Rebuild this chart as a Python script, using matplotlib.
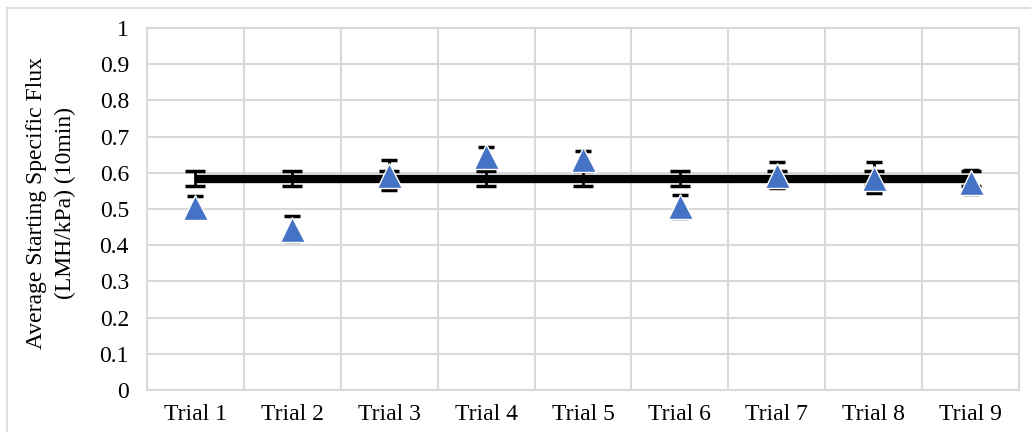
import numpy as np
import matplotlib
matplotlib.use("Agg")
import matplotlib.pyplot as plt
from matplotlib.lines import Line2D

# Starting specific flux per trial, with the overall average
trials = ["Trial 1", "Trial 2", "Trial 3", "Trial 4", "Trial 5",
          "Trial 6", "Trial 7", "Trial 8", "Trial 9"]
trial_flux = [0.505, 0.446, 0.594, 0.646, 0.639, 0.507, 0.595, 0.586, 0.575]
trial_err = [0.030, 0.035, 0.042, 0.026, 0.020, 0.032, 0.036, 0.043, 0.033]
avg_flux = 0.584
avg_err = 0.021

plt.rcParams["font.family"] = ["Liberation Serif", "DejaVu Serif"]
plt.rcParams["font.size"] = 17

fig = plt.figure(figsize=(10.31, 4.32), dpi=100)
ax = fig.add_axes([147 / 1031, 1 - 390 / 432, 872 / 1031, 362 / 432])

x = np.arange(len(trials))
grid_col = "#d9d9d9"

# average line with its error bars at every trial
avg_line = ax.errorbar(x, [avg_flux] * len(x), yerr=avg_err, color="black", lw=6,
                       elinewidth=2, capsize=7, capthick=2.5, zorder=3)
avg_line[0].set_solid_capstyle("butt")

# individual trials
ax.errorbar(x, trial_flux, yerr=trial_err, fmt="none", ecolor="black",
            elinewidth=2, capsize=6, capthick=2.5, zorder=4)
ax.plot(x, trial_flux, ls="none", marker="^", ms=18, color="#4472c4",
        mec="white", mew=1, zorder=5)

ax.set_xlim(-0.5, len(trials) - 0.5)
ax.set_ylim(0, 1)
ax.set_xticks(x)
ax.set_xticklabels(trials)
ax.set_xticks(np.arange(0.5, len(trials) - 1, 1), minor=True)
ax.set_yticks(np.arange(0, 1.01, 0.1))
ax.set_yticklabels(["0"] + [f"{v:.1f}" for v in np.arange(0.1, 0.95, 0.1)] + ["1"])
ax.tick_params(axis="both", which="both", length=0)
ax.tick_params(axis="y", pad=13)
ax.tick_params(axis="x", pad=10)

ax.grid(True, axis="y", color=grid_col, lw=1.5)
ax.grid(True, axis="x", which="minor", color=grid_col, lw=1.5)
ax.set_axisbelow(True)
for s in ax.spines.values():
    s.set_color(grid_col)
    s.set_linewidth(1.5)

fig.text(51 / 1031, 1 - 203 / 432,
         "Average Starting Specific Flux\n(LMH/kPa) (10min)",
         rotation=90, ha="center", va="center", multialignment="center",
         linespacing=1.5)

# chart frame
fig.add_artist(Line2D([7 / 1031, 7 / 1031], [0, 1 - 8 / 432],
                      transform=fig.transFigure, color=grid_col, lw=1.2))
fig.add_artist(Line2D([7 / 1031, 1], [1 - 8 / 432, 1 - 8 / 432],
                      transform=fig.transFigure, color=grid_col, lw=1.2))

fig.savefig("out.png", dpi=100)
